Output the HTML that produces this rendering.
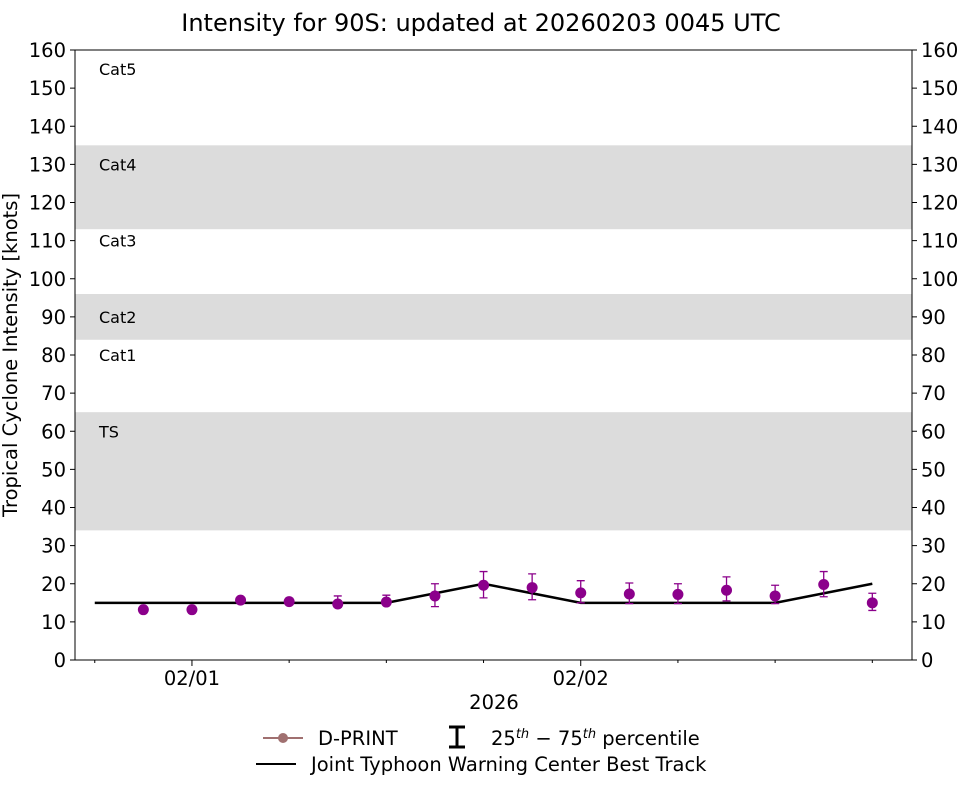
<!DOCTYPE html>
<html><head><meta charset="utf-8"><style>
body{margin:0;background:#fff;}
svg text{font-family:"DejaVu Sans","Liberation Sans",sans-serif;fill:#000;}
</style></head><body>
<svg id="chart" width="962" height="785" viewBox="0 0 962 785">
<text x="481" y="31" font-size="24" text-anchor="middle">Intensity for 90S: updated at 20260203 0045 UTC</text>
<g id="bands"></g>
<g id="axes"></g>
<g id="series"></g>
<rect x="75" y="50" width="837" height="610" fill="none" stroke="#000" stroke-width="1"/>
<text x="17" y="355" font-size="19.5" text-anchor="middle" transform="rotate(-90 17 355)">Tropical Cyclone Intensity [knots]</text>
<text x="494" y="709" font-size="19.5" text-anchor="middle">2026</text>
<g>
<line x1="263" y1="738" x2="303" y2="738" stroke="#a07070" stroke-width="2"/>
<circle cx="283" cy="738" r="5" fill="#a07070"/>
<text x="318" y="745" font-size="19.5">D-PRINT</text>
<path d="M449 727 H465 M457 727 V747 M449 747 H465" stroke="#000" stroke-width="3" fill="none"/>
<text x="491" y="745" font-size="19.5">25<tspan font-size="13" dy="-7" font-style="italic">th</tspan><tspan dy="7"> − 75</tspan><tspan font-size="13" dy="-7" font-style="italic">th</tspan><tspan dy="7"> percentile</tspan></text>
<line x1="256" y1="764" x2="296" y2="764" stroke="#000" stroke-width="2"/>
<text x="311" y="771" font-size="19.5">Joint Typhoon Warning Center Best Track</text>
</g>
</svg>
<script>
const yTicks=[0,10,20,30,40,50,60,70,80,90,100,110,120,130,140,150,160];
const bandRanges=[[34,65],[84,96],[113,135]];
const catLabels=["TS","Cat1","Cat2","Cat3","Cat4","Cat5"];
const catValues=[60,80,90,110,130,155];
const xMajorHours=[0,24];
const xMajorLabels=["02/01","02/02"];
const xMinorHours=[-6,6,12,18,30,36,42];
const btHours=[-6,0,6,12,18,24,30,36,42];
const btValues=[15,15,15,15,20,15,15,15,20];
const dpHours=[-3,0,3,6,9,12,15,18,21,24,27,30,33,36,39,42];
const dpValues=[13.2,13.2,15.7,15.3,14.7,15.2,16.8,19.6,19,17.6,17.3,17.2,18.3,16.8,19.8,15];
const dpLow=[null,null,null,14.5,13.8,14.5,14,16.3,15.8,15,14.8,14.8,15.5,14.8,16.6,13];
const dpHigh=[null,null,null,16.2,16.8,17,20,23.2,22.6,20.8,20.2,20,21.8,19.6,23.2,17.5];
const NS="http://www.w3.org/2000/svg";
const X0=75,X1=912,Y0=660,Y1=50;
const hMin=-7.22,hMax=44.45;
function xs(h){return X0+(h-hMin)/(hMax-hMin)*(X1-X0);}
function ys(v){return Y0-v/160*(Y0-Y1);}
function mk(tag,attrs,parent){const e=document.createElementNS(NS,tag);for(const k in attrs)e.setAttribute(k,attrs[k]);parent.appendChild(e);return e;}
const bands=document.getElementById('bands'),axes=document.getElementById('axes'),series=document.getElementById('series');
bandRanges.forEach(r=>{const e=mk('rect',{x:X0,y:ys(r[1]),width:X1-X0,height:ys(r[0])-ys(r[1]),fill:'#dcdcdc'},bands);

});
catLabels.forEach((c,i)=>{const t=mk('text',{x:99,y:ys(catValues[i])+6,'font-size':16},bands);t.textContent=c;

});
yTicks.forEach(v=>{const y=ys(v);
mk('line',{x1:X0-5,x2:X0,y1:y,y2:y,stroke:'#000'},axes);
mk('line',{x1:X1,x2:X1+5,y1:y,y2:y,stroke:'#000'},axes);
const a=mk('text',{x:X0-9,y:y+7,'font-size':19.5,'text-anchor':'end'},axes);a.textContent=v;


const b=mk('text',{x:X1+9,y:y+7,'font-size':19.5},axes);b.textContent=v;

});
xMajorHours.forEach((h,i)=>{const x=xs(h);mk('line',{x1:x,x2:x,y1:Y0,y2:Y0+6,stroke:'#000'},axes);
const t=mk('text',{x:x,y:Y0+25,'font-size':19.5,'text-anchor':'middle'},axes);t.textContent=xMajorLabels[i];

});
xMinorHours.forEach(h=>{const x=xs(h);mk('line',{x1:x,x2:x,y1:Y0,y2:Y0+3,stroke:'#000'},axes);});
const bt=mk('polyline',{points:btHours.map((h,i)=>xs(h)+','+ys(btValues[i])).join(' '),fill:'none',stroke:'#000','stroke-width':2.5},series);


dpHours.forEach((h,i)=>{const x=xs(h);
if(dpLow[i]!=null){const yl=ys(dpLow[i]),yh=ys(dpHigh[i]);
const eb=mk('path',{d:`M${x-4} ${yh}H${x+4}M${x} ${yh}V${yl}M${x-4} ${yl}H${x+4}`,stroke:'#8b008b','stroke-width':1.3,fill:'none'},series);

}
const c=mk('circle',{cx:x,cy:ys(dpValues[i]),r:5.5,fill:'#8b008b'},series);

});
</script>
</body></html>
